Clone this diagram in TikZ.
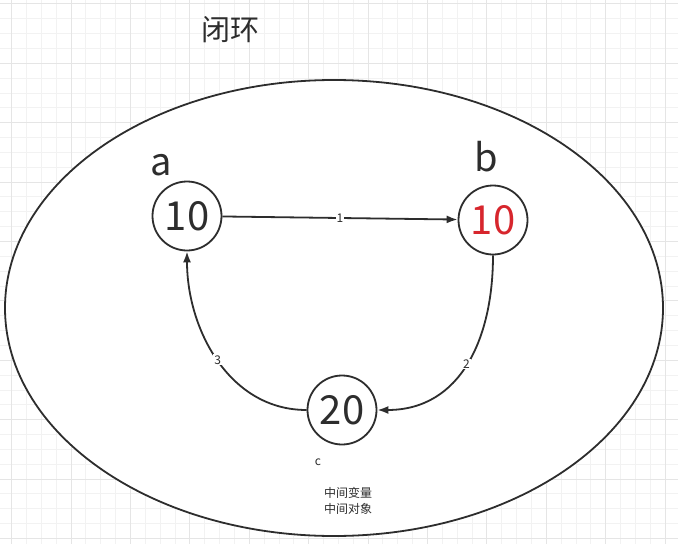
\documentclass[tikz,border=0pt]{standalone}
\usepackage{fontspec}
\setmainfont{Noto Sans CJK SC}
\usetikzlibrary{arrows.meta}
\definecolor{numred}{RGB}{215,38,45}
\definecolor{ink}{RGB}{45,45,45}
\begin{document}
\begin{tikzpicture}[x=1pt,y=-1pt,>={Latex[length=11pt,width=8pt]}]
        \tikzstyle{node}=[circle,line width=1.8pt,draw=ink,minimum size=69pt,inner sep=0pt,text=ink,font=\fontsize{40}{40}\selectfont]
        \tikzstyle{letter}=[text=ink,font=\fontsize{38}{38}\selectfont]
        \tikzstyle{small}=[text=ink,font=\fontsize{12}{16}\selectfont]
        \tikzstyle{lab}=[small,fill=white,inner sep=1pt]
        \tikzstyle{link}=[->,line width=1.8pt,draw=ink]

      \begin{scope}
         \useasboundingbox (0,0) rectangle (678,544);

         % grid
         \foreach \k in {0,...,46}
            \draw[black!5,line width=1pt] ({-3.15+\k*14.85},0) -- ({-3.15+\k*14.85},544);
         \foreach \k in {0,...,36}
            \draw[black!5,line width=1pt] (0,{3.9+\k*14.85}) -- (678,{3.9+\k*14.85});
         \foreach \k in {0,...,11}
            \draw[black!10,line width=1pt] ({11.7+\k*59.4},0) -- ({11.7+\k*59.4},544);
         \foreach \k in {0,...,9}
            \draw[black!10,line width=1pt] (0,{3.9+\k*59.4}) -- (678,{3.9+\k*59.4});

         \node[text=ink,font=\fontsize{29}{29}\selectfont] (title) at (230,30) {闭环};

         \draw[line width=1.8pt,draw=ink,fill=white] (334,308) ellipse [x radius=329, y radius=228];

         \node[node] (a) at (187,216) {10};
         \node[node,text=numred] (b) at (493,220) {10};
         \node[node] (c) at (342,410) {20};

         \node[letter] (na) at (161,165) {a};
         \node[letter] (nb) at (486,157) {b};
         \node[small] (nc) at (318,462) {c};

         \draw[link] (a) -- node[lab] {1} (b);
         \draw[link] (b.south) to[out=-90,in=0,looseness=1.1] node[lab] {2} (c.east);
         \draw[link] (c.west) to[out=180,in=-90] node[lab] {3} (a.south);

         \node[small,align=center] (note) at (348,501) {中间变量\\中间对象};
      \end{scope}
\end{tikzpicture}
\end{document}
